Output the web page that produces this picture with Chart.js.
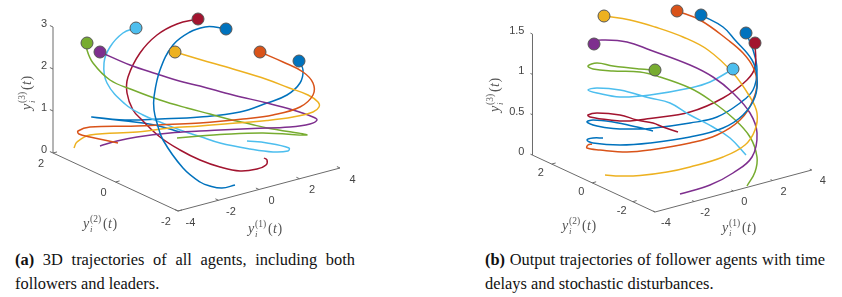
<!DOCTYPE html>
<html>
<head>
<meta charset="utf-8">
<script src="https://cdn.jsdelivr.net/npm/chart.js@4"></script>
<style>
  body { margin: 0; background: #fff; width: 842px; height: 297px; position: relative; overflow: hidden; }
  canvas { position: absolute; top: 0; }
  #chart-a { left: 0; }
  #chart-b { left: 421px; }
  .cap { position: absolute; top: 248px; width: 340px; font: 16.4px/23.5px "Liberation Serif", serif; color: #111; text-align: justify; }
  #cap-a { left: 15px; }
  #cap-b { left: 485px; }
</style>
</head>
<body>
<canvas id="chart-a" width="421" height="245"></canvas>
<canvas id="chart-b" width="421" height="245"></canvas>
<div class="cap" id="cap-a"><b>(a)</b> 3D trajectories of all agents, including both followers and leaders.</div>
<div class="cap" id="cap-b"><b>(b)</b> Output trajectories of follower agents with time delays and stochastic disturbances.</div>
<script>
// tick labels of the two 3d boxes
const y1Ticks = [-4, -2, 0, 2, 4];
const y2Ticks = [2, 0, -2];
const y3TicksA = [0, 1, 2, 3];
const y3TicksB = [0, 0.5, 1, 1.5];

// panel (a), curves in view plane units, first point is the marker
const aBlueX = [226, 215, 205, 190, 173, 160, 154, 154, 157, 163, 183, 200, 210, 222, 235];
const aBlueY = [29, 27, 27, 32, 45, 70, 97, 110, 123, 140, 168, 182, 186, 188, 185];
const aOrangeX = [260, 283, 303, 313, 313, 300, 273, 243, 200, 167, 137, 90, 78, 79, 90, 118];
const aOrangeY = [52, 62, 72, 83, 95, 107, 115, 119, 123, 124.5, 126, 127, 131, 134, 137, 143];
const aYellowX = [175, 200, 233, 267, 288, 308, 318, 319, 313, 293, 267, 230, 200, 170, 137, 90, 77, 74];
const aYellowY = [52, 59.5, 69, 79.5, 87.5, 95, 102, 107, 112, 117, 120.5, 123.5, 126, 128, 132, 135, 142, 148];
const aPurpleX = [100, 130, 157, 183, 200, 233, 267, 293, 313, 317, 310, 290, 253, 220, 200, 170, 137, 117, 100];
const aPurpleY = [52, 65, 74, 82, 86, 95, 103, 110, 117, 120, 124, 127, 128.5, 130, 131, 133, 137, 141, 146];
const aGreenX = [87, 87, 93, 110, 133, 160, 187, 210, 228, 250, 267, 307, 263, 220, 200, 177];
const aGreenY = [43, 50, 63, 80, 90, 100, 108, 114, 119, 124, 128, 135, 133, 134.5, 136, 138];
const aCyanX = [136, 123, 110, 104, 107, 125, 143, 160, 180, 200, 220, 250, 273, 288, 289, 267, 247];
const aCyanY = [28, 33, 47, 63, 83, 104, 115, 122, 130, 136.5, 143, 149, 152, 151, 148, 143, 141];
const aRedX = [198, 177, 157, 140, 128, 127, 133, 142, 160, 180, 200, 220, 240, 257, 266, 267, 264];
const aRedY = [19, 24, 35, 53, 77, 93, 110, 120, 137, 150, 160, 167, 171, 169, 165, 160, 158];
const aNavyX = [299, 303, 300, 287, 267, 240, 200, 160, 125, 92, 143, 157, 180];
const aNavyY = [61, 70, 83, 95, 103, 112, 117, 119, 120, 117, 123, 125.5, 132];

// panel (b)
const bBlueX = [701, 723, 735, 752, 757, 755, 743, 723, 690, 650, 620, 593, 587, 593, 603];
const bBlueY = [15, 27, 40, 60, 77, 97, 115, 128, 137, 143, 145, 143, 140, 138, 138];
const bOrangeX = [677, 700, 728, 743, 753, 757, 753, 740, 717, 690, 650, 627, 600, 587, 588, 592];
const bOrangeY = [11, 20, 40, 53, 67, 83, 100, 120, 135, 143, 150, 152, 150, 148, 145, 144];
const bYellowX = [604, 630, 655, 683, 708, 733, 750, 757, 755, 745, 723, 690, 667, 640, 620, 605];
const bYellowY = [16, 20, 27, 37, 50, 73, 97, 113, 130, 145, 157, 167, 172, 175.5, 176, 175];
const bPurpleX = [594, 590, 603, 627, 650, 690, 713, 733, 750, 757, 752, 733, 710, 680];
const bPurpleY = [44, 41.5, 40, 42, 50, 65, 77, 93, 113, 133, 157, 173, 185, 194];
const bGreenX = [655, 640, 613, 597, 588, 593, 613, 640, 660, 690, 710, 733, 750, 757, 755, 747];
const bGreenY = [70, 69, 66, 63, 66, 69, 71, 72, 77, 88, 100, 118, 137, 157, 172, 186];
const bCyanX = [733, 710, 690, 650, 620, 597, 588, 597, 620, 650, 670, 690, 713, 730, 746];
const bCyanY = [69, 82, 88, 95, 97, 93, 90, 88, 90, 98, 103, 115, 127, 138, 155];
const bRedX = [755, 755, 747, 723, 690, 650, 630, 610, 590, 588, 597, 620, 637, 653, 663, 678];
const bRedY = [43, 67, 80, 98, 112, 118.5, 121, 120, 117, 115, 113, 115, 120, 123, 127, 132];
const bNavyX = [746, 753, 757, 753, 740, 717, 690, 650, 633, 613, 597, 587, 593, 613, 637, 653];
const bNavyY = [33, 50, 70, 90, 103, 117, 123, 128.5, 129, 128.5, 126, 122, 120, 122, 127, 131];

const BLUE = "#0072BD", ORANGE = "#D95319", YELLOW = "#EDB120", PURPLE = "#7E2F8E",
      GREEN = "#77AC30", CYAN = "#4DBEEE", RED = "#A2142F";

const curve = (xs, ys, color) => ({
  data: xs.map((x, i) => ({ x, y: ys[i] })), borderColor: color, backgroundColor: color,
  showLine: true, borderWidth: 1.5, tension: 0.4, pointRadius: 0, order: 2,
});
const marker = (xs, ys, color, i = 0) => ({
  data: [{ x: xs[i], y: ys[i] }], backgroundColor: color, borderColor: "#555",
  borderWidth: 1, pointRadius: 6, order: 1,
});

// the box is a plain orthographic view: corner + y1*e1 + y2*e2 + y3*e3
function box(b) {
  const p = (y1, y2, y3) => ({
    x: b.corner[0] + (y1 - b.y1[0]) * b.e1[0] + (y2 - b.y2[0]) * b.e2[0],
    y: b.corner[1] + (y1 - b.y1[0]) * b.e1[1] + (y2 - b.y2[0]) * b.e2[1] - y3 * b.e3,
  });
  const seg = (s, e) => ({ data: [s, e], showLine: true, borderColor: "#6b6b6b", borderWidth: 1, pointRadius: 0, tension: 0, order: 3 });
  const out = [
    seg(p(b.y1[0], b.y2[0], 0), p(b.y1[1], b.y2[0], 0)),
    seg(p(b.y1[0], b.y2[0], 0), p(b.y1[0], b.y2[1], 0)),
    seg(p(b.y1[0], b.y2[1], 0), p(b.y1[0], b.y2[1], b.z[b.z.length - 1])),
  ];
  y1Ticks.forEach(t => out.push(seg(p(t, b.y2[0], 0), p(t, b.y2[0] + 0.1, 0))));
  y2Ticks.forEach(t => out.push(seg(p(b.y1[0], t, 0), p(b.y1[0] + 0.2, t, 0))));
  b.z.forEach(t => out.push(seg(p(b.y1[0], b.y2[1], t), p(b.y1[0], b.y2[1] + 0.1, t))));
  return { p, segs: out };
}

// y_i^(k)(t) drawn piece by piece, canvas has no sub/superscript
function mathLabel(ctx, x, y, rot, k) {
  ctx.save();
  ctx.translate(x, y);
  ctx.rotate(rot);
  ctx.fillStyle = "#555";
  ctx.textAlign = "left";
  ctx.textBaseline = "alphabetic";
  ctx.font = "italic 14px 'Liberation Serif'";
  ctx.fillText("y", 0, 0);
  ctx.font = "italic 9px 'Liberation Serif'";
  ctx.fillText("i", 7, 4);
  ctx.font = "9.5px 'Liberation Serif'";
  ctx.fillText("(" + k + ")", 7, -6);
  ctx.font = "14px 'Liberation Serif'";
  ctx.fillText("(", 20, 0);
  ctx.font = "italic 14px 'Liberation Serif'";
  ctx.fillText("t", 25, 0);
  ctx.font = "14px 'Liberation Serif'";
  ctx.fillText(")", 29.5, 0);
  ctx.restore();
}

function panel(id, xMin, xMax, curves, markers, b) {
  const { p, segs } = box(b);
  const labels = {
    id: "boxLabels",
    afterDatasetsDraw(chart) {
      const { ctx, scales } = chart;
      const px = v => scales.x.getPixelForValue(v.x), py = v => scales.y.getPixelForValue(v.y);
      ctx.save();
      ctx.font = "11px 'Liberation Sans'";
      ctx.fillStyle = "#444";
      ctx.textBaseline = "middle";
      ctx.textAlign = "center";
      y1Ticks.forEach(t => { const q = p(t, b.y2[0], 0); ctx.fillText(String(t), px(q) + b.off1[0], py(q) + b.off1[1]); });
      y2Ticks.forEach(t => { const q = p(b.y1[0], t, 0); ctx.fillText(String(t), px(q) + b.off2[0], py(q) + b.off2[1]); });
      ctx.textAlign = "right";
      b.z.forEach(t => { const q = p(b.y1[0], b.y2[1], t); ctx.fillText(String(t), px(q) + b.off3[0], py(q) + b.off3[1]); });
      ctx.restore();
      b.math.forEach(m => mathLabel(ctx, m[0] - xMin, m[1], m[2], m[3]));
    },
  };
  return new Chart(document.getElementById(id), {
    type: "scatter",
    data: { datasets: [...segs, ...curves, ...markers] },
    options: {
      responsive: false, animation: false,
      layout: { padding: 0, autoPadding: false },
      plugins: { legend: { display: false }, tooltip: { enabled: false } },
      scales: {
        x: { display: false, min: xMin, max: xMax },
        y: { display: false, min: 0, max: 245, reverse: true },
      },
    },
    plugins: [labels],
  });
}

panel("chart-a", 0, 421,
  [curve(aBlueX, aBlueY, BLUE), curve(aOrangeX, aOrangeY, ORANGE), curve(aYellowX, aYellowY, YELLOW),
   curve(aPurpleX, aPurpleY, PURPLE), curve(aGreenX, aGreenY, GREEN), curve(aCyanX, aCyanY, CYAN),
   curve(aRedX, aRedY, RED), curve(aNavyX, aNavyY, BLUE)],
  [marker(aBlueX, aBlueY, BLUE), marker(aOrangeX, aOrangeY, ORANGE), marker(aYellowX, aYellowY, YELLOW),
   marker(aPurpleX, aPurpleY, PURPLE), marker(aGreenX, aGreenY, GREEN), marker(aCyanX, aCyanY, CYAN),
   marker(aRedX, aRedY, RED), marker(aNavyX, aNavyY, BLUE)],
  { corner: [178, 211], y1: [-4, 4], y2: [-2, 2], e1: [20.25, -5.375], e2: [-31.25, -14.5], e3: 42, z: y3TicksA,
    off1: [12.5, 11.5], off2: [-12, 10.5], off3: [-6, -3],
    math: [[31, 110, -Math.PI / 2, 3], [83, 228, 0, 2], [248, 233, 0, 1]] });

panel("chart-b", 421, 842,
  [curve(bBlueX, bBlueY, BLUE), curve(bOrangeX, bOrangeY, ORANGE), curve(bYellowX, bYellowY, YELLOW),
   curve(bPurpleX, bPurpleY, PURPLE), curve(bGreenX, bGreenY, GREEN), curve(bCyanX, bCyanY, CYAN),
   curve(bRedX, bRedY, RED), curve(bNavyX, bNavyY, BLUE)],
  [marker(bBlueX, bBlueY, BLUE), marker(bOrangeX, bOrangeY, ORANGE), marker(bYellowX, bYellowY, YELLOW),
   marker(bPurpleX, bPurpleY, PURPLE), marker(bGreenX, bGreenY, GREEN), marker(bCyanX, bCyanY, CYAN),
   marker(bRedX, bRedY, RED), marker(bNavyX, bNavyY, BLUE)],
  { corner: [655, 212], y1: [-4, 4], y2: [-3.1, 2.95], e1: [19.6, -5.25], e2: [-20.25, -9.4], e3: 80.7, z: y3TicksB,
    off1: [11, 11], off2: [-11, 9], off3: [-8, -3],
    math: [[499, 112, -Math.PI / 2, 3], [562, 230, 0, 2], [722, 232, 0, 1]] });
</script>
</body>
</html>
